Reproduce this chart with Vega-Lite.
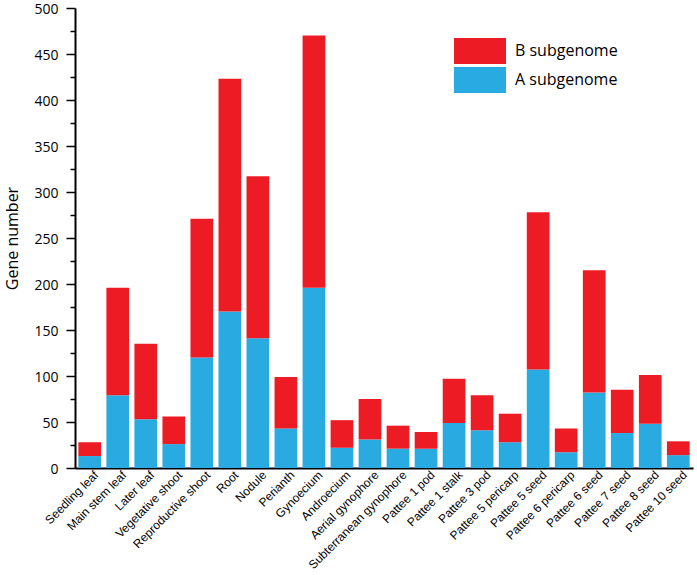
{
  "$schema": "https://vega.github.io/schema/vega-lite/v6.json",
  "width": 618,
  "height": 460,
  "autosize": "none",
  "padding": {"left": 75, "top": 8, "right": 4, "bottom": 107},
  "background": "white",
  "config": {"view": {"stroke": null}},
  "data": {"values": [
    {"tissue": "Seedling leaf", "subgenome": "A subgenome", "count": 13},
    {"tissue": "Seedling leaf", "subgenome": "B subgenome", "count": 15},
    {"tissue": "Main stem leaf", "subgenome": "A subgenome", "count": 79},
    {"tissue": "Main stem leaf", "subgenome": "B subgenome", "count": 117},
    {"tissue": "Later leaf", "subgenome": "A subgenome", "count": 53},
    {"tissue": "Later leaf", "subgenome": "B subgenome", "count": 82},
    {"tissue": "Vegetative shoot", "subgenome": "A subgenome", "count": 26},
    {"tissue": "Vegetative shoot", "subgenome": "B subgenome", "count": 30},
    {"tissue": "Reproductive shoot", "subgenome": "A subgenome", "count": 120},
    {"tissue": "Reproductive shoot", "subgenome": "B subgenome", "count": 151},
    {"tissue": "Root", "subgenome": "A subgenome", "count": 170},
    {"tissue": "Root", "subgenome": "B subgenome", "count": 253},
    {"tissue": "Nodule", "subgenome": "A subgenome", "count": 141},
    {"tissue": "Nodule", "subgenome": "B subgenome", "count": 176},
    {"tissue": "Perianth", "subgenome": "A subgenome", "count": 43},
    {"tissue": "Perianth", "subgenome": "B subgenome", "count": 56},
    {"tissue": "Gynoecium", "subgenome": "A subgenome", "count": 196},
    {"tissue": "Gynoecium", "subgenome": "B subgenome", "count": 274},
    {"tissue": "Androecium", "subgenome": "A subgenome", "count": 22},
    {"tissue": "Androecium", "subgenome": "B subgenome", "count": 30},
    {"tissue": "Aerial gynophore", "subgenome": "A subgenome", "count": 31},
    {"tissue": "Aerial gynophore", "subgenome": "B subgenome", "count": 44},
    {"tissue": "Subterranean gynophore", "subgenome": "A subgenome", "count": 21},
    {"tissue": "Subterranean gynophore", "subgenome": "B subgenome", "count": 25},
    {"tissue": "Pattee 1 pod", "subgenome": "A subgenome", "count": 21},
    {"tissue": "Pattee 1 pod", "subgenome": "B subgenome", "count": 18},
    {"tissue": "Pattee 1 stalk", "subgenome": "A subgenome", "count": 49},
    {"tissue": "Pattee 1 stalk", "subgenome": "B subgenome", "count": 48},
    {"tissue": "Pattee 3 pod", "subgenome": "A subgenome", "count": 41},
    {"tissue": "Pattee 3 pod", "subgenome": "B subgenome", "count": 38},
    {"tissue": "Pattee 5 pericarp", "subgenome": "A subgenome", "count": 28},
    {"tissue": "Pattee 5 pericarp", "subgenome": "B subgenome", "count": 31},
    {"tissue": "Pattee 5 seed", "subgenome": "A subgenome", "count": 107},
    {"tissue": "Pattee 5 seed", "subgenome": "B subgenome", "count": 171},
    {"tissue": "Pattee 6 pericarp", "subgenome": "A subgenome", "count": 17},
    {"tissue": "Pattee 6 pericarp", "subgenome": "B subgenome", "count": 26},
    {"tissue": "Pattee 6 seed", "subgenome": "A subgenome", "count": 82},
    {"tissue": "Pattee 6 seed", "subgenome": "B subgenome", "count": 133},
    {"tissue": "Pattee 7 seed", "subgenome": "A subgenome", "count": 38},
    {"tissue": "Pattee 7 seed", "subgenome": "B subgenome", "count": 47},
    {"tissue": "Pattee 8 seed", "subgenome": "A subgenome", "count": 48},
    {"tissue": "Pattee 8 seed", "subgenome": "B subgenome", "count": 53},
    {"tissue": "Pattee 10 seed", "subgenome": "A subgenome", "count": 14},
    {"tissue": "Pattee 10 seed", "subgenome": "B subgenome", "count": 15}
  ]},
  "mark": {"type": "bar"},
  "encoding": {
    "x": {
      "field": "tissue",
      "type": "nominal",
      "sort": null,
      "scale": {"paddingInner": 0.19, "paddingOuter": 0.12},
      "axis": {
        "title": null,
        "labelAngle": -45,
        "labelAlign": "right",
        "labelBaseline": "top",
        "labelFont": "Liberation Sans",
        "labelFontSize": 12,
        "labelColor": "#000",
        "labelPadding": 1,
        "labelOffset": 3,
        "ticks": false,
        "domainColor": "#000",
        "domainWidth": 2
      }
    },
    "y": {
      "field": "count",
      "type": "quantitative",
      "stack": "zero",
      "scale": {"domain": [0, 500], "nice": false},
      "axis": {
        "title": "Gene number",
        "titleFont": "Open Sans",
        "titleFontSize": 16,
        "titleFontWeight": "normal",
        "titleColor": "#000",
        "titlePadding": 13,
        "values": [0, 25, 50, 75, 100, 125, 150, 175, 200, 225, 250, 275, 300, 325, 350, 375, 400, 425, 450, 475, 500],
        "labelExpr": "datum.value % 50 === 0 ? datum.label : ''",
        "labelFont": "Open Sans",
        "labelFontSize": 14,
        "labelColor": "#000",
        "labelPadding": 8,
        "labelOffset": 1,
        "tickSize": {"condition": {"test": "datum.value % 50 === 0", "value": 9}, "value": 5},
        "tickColor": "#000",
        "tickWidth": 1.5,
        "domainColor": "#000",
        "domainWidth": 2,
        "grid": false
      }
    },
    "color": {
      "field": "subgenome",
      "type": "nominal",
      "scale": {"domain": ["B subgenome", "A subgenome"], "range": ["#ED1C24", "#29ABE2"]},
      "legend": {
        "title": null,
        "orient": "none",
        "legendX": 392,
        "legendY": 30,
        "padding": 0,
        "symbolType": "M-2,-1H2V1H-2Z",
        "symbolSize": 676,
        "symbolStrokeWidth": 0,
        "symbolOpacity": 1,
        "labelOffset": 22,
        "labelFont": "Open Sans",
        "labelFontSize": 16,
        "labelColor": "#000",
        "rowPadding": 3
      }
    },
    "order": {"field": "subgenome", "sort": "ascending"}
  }
}
